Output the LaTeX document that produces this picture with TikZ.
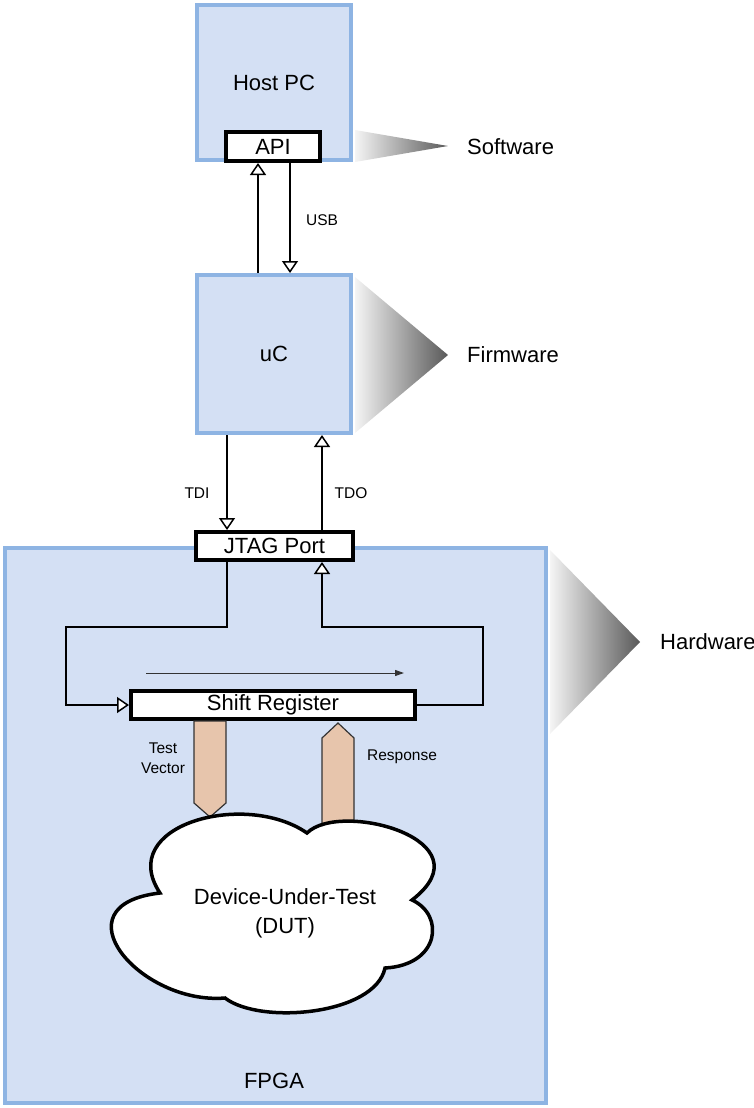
\documentclass[tikz,border=0pt]{standalone}
\usepackage{fontspec}
\setmainfont{Liberation Sans}
\usepackage{tikz}
\usetikzlibrary{arrows.meta}
\usepackage{xcolor}
\definecolor{boxblue}{RGB}{212,224,244}
\definecolor{edgeblue}{RGB}{142,180,227}
\definecolor{busfill}{RGB}{231,197,172}

\begin{document}
\begin{tikzpicture}[x=1pt, y=-1pt,
  every node/.style={inner sep=0pt, font=\fontsize{22}{29}\selectfont},
  bluebox/.style={draw=edgeblue, fill=boxblue, line width=4pt},
  blackbox/.style={draw=black, fill=white, line width=4pt},
  oarr/.style={line width=1.5pt, -{Triangle[open, fill=white, length=12pt, width=16pt]}},
  wedge/.style={left color=black!4, right color=black!65},
  small/.style={font=\fontsize{15.5}{20}\selectfont},
  bus/.style={draw=black!80, fill=busfill, line width=1.2pt}]

\useasboundingbox (0,0) rectangle (754,1108);

% Draw the blue boxes
\node[bluebox, minimum width=154pt, minimum height=155pt] (hostpc) at (274,82.5) {Host PC};
\node[bluebox, minimum width=154pt, minimum height=158pt] (uc) at (274,354) {uC};
\node[bluebox, minimum width=541pt, minimum height=555pt] (fpga) at (275.5,825.5) {};
\node (fpgatext) at (274,1081) {FPGA};

% Draw the black boxes
\node[blackbox, minimum width=94pt, minimum height=29pt] (api) at (273,146.5) {API};
\node[blackbox, minimum width=157pt, minimum height=28pt] (jtag) at (274.5,546) {JTAG Port};
\node[blackbox, minimum width=284pt, minimum height=28pt] (shiftreg) at (273,705) {Shift Register};

% Draw the wedges and the layer names
\shade[wedge] (355,130) -- (448,146) -- (355,162) -- cycle;
\shade[wedge] (355,277) -- (448,355) -- (355,433) -- cycle;
\shade[wedge] (550,550) -- (640,642) -- (550,734) -- cycle;
\node[anchor=west] (software) at (467,147) {Software};
\node[anchor=west] (firmware) at (467,355) {Firmware};
\node[anchor=west] (hardware) at (660,642) {Hardware};

% USB link
\draw[oarr] ([xshift=-16pt]uc.north) -- ([xshift=-16pt]uc.north |- api.south);
\draw[oarr] ([xshift=17pt]api.south) -- ([xshift=17pt]api.south |- uc.north);
\node[small] (usb) at (322,220) {USB};

% JTAG lines
\draw[oarr] ([xshift=-47pt]uc.south) -- ([xshift=-47pt]uc.south |- jtag.north);
\draw[oarr] ([xshift=48pt]uc.south |- jtag.north) -- ([xshift=48pt]uc.south);
\node[small] (tdi) at (197,493) {TDI};
\node[small] (tdo) at (351,493) {TDO};

% Scan chain loop
\coordinate (lcorner) at (66,627);
\coordinate (rcorner) at (483,627);
\draw[oarr] ([xshift=-47.5pt]jtag.south) |- (lcorner) |- (shiftreg.west);
\draw[oarr] (shiftreg.east) -| (rcorner) -| ([xshift=47.5pt]jtag.south);
\coordinate (shiftstart) at (146,673);
\coordinate (shiftend) at (404,673);
\draw[black!80, line width=1pt, -{Triangle[length=9pt, width=6pt]}] (shiftstart) -- (shiftend);

% Buses between register and DUT
\draw[bus] (194,721) -- (226,721) -- (226,803) -- (210,817) -- (194,803) -- cycle;
\draw[bus] (322,850) -- (322,738) -- (338,723) -- (354,738) -- (354,850) -- cycle;
\node[small, align=center] (testvec) at (163,758) {Test\\Vector};
\node[small] (response) at (402,757) {Response};

% Draw the cloud
\draw[line width=3.5pt, fill=white] (160,893) .. controls (115,825) and (245,790) .. (307,833) .. controls (340,800) and (490,840) .. (412,900) .. controls (445,915) and (440,965) .. (385,968) .. controls (375,1015) and (260,1025) .. (225,998) .. controls (140,1005) and (55,905) .. (160,893) -- cycle;
\node[align=center] (dut) at (285,913) {Device-Under-Test\\(DUT)};

\end{tikzpicture}
\end{document}
